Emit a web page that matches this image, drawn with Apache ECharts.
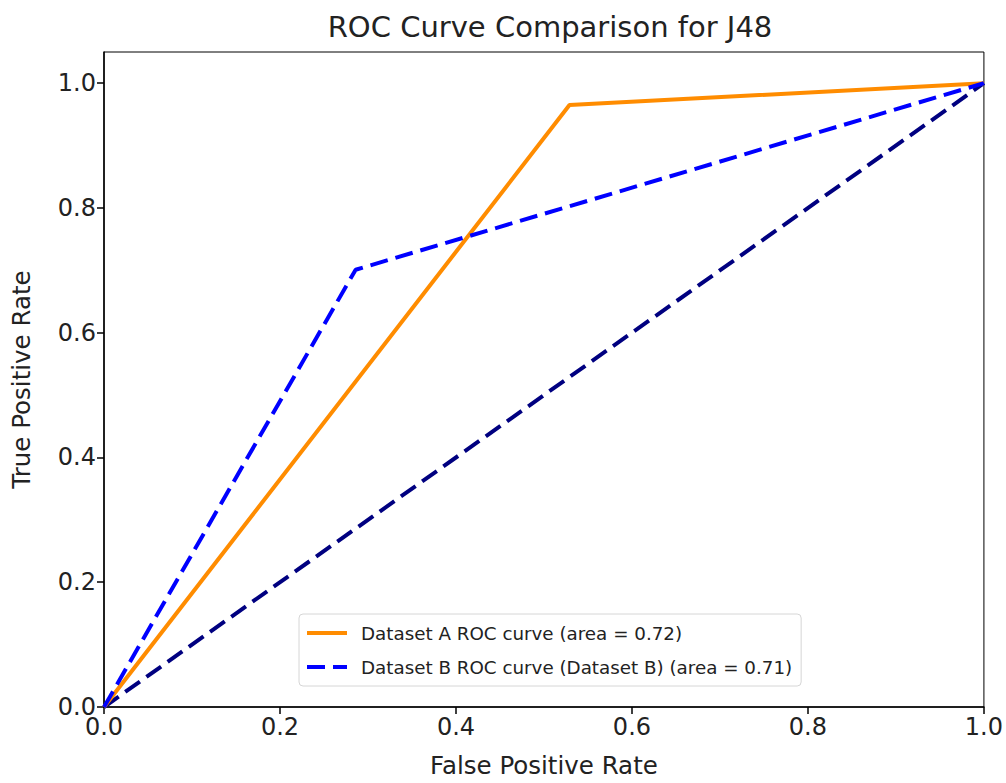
<!DOCTYPE html>
<html>
<head>
<meta charset="utf-8">
<style>
  html, body { margin: 0; padding: 0; background: #fff; }
  #chart { width: 1006px; height: 783px; }
</style>
<script src="https://cdn.jsdelivr.net/npm/echarts@6/dist/echarts.min.js"></script>
</head>
<body>
<div id="chart"></div>
<script>
// ROC curves for J48, two datasets plus the chance diagonal
var nameA = 'Dataset A ROC curve (area = 0.72)';
var nameB = 'Dataset B ROC curve (Dataset B) (area = 0.71)';
var fprA = [0.0, 0.529, 1.0];
var tprA = [0.0, 0.965, 1.0];
var fprB = [0.0, 0.286, 1.0];
var tprB = [0.0, 0.701, 1.0];
var fprChance = [0.0, 1.0];
var tprChance = [0.0, 1.0];
var tickValues = [0, 0.2, 0.4, 0.6, 0.8, 1.0];

function pairs(xs, ys) {
  return xs.map(function(x, i) { return [x, ys[i]]; });
}

var ink = '#222';
var font = 'DejaVu Sans';

var chart = echarts.init(document.getElementById('chart'), null, { renderer: 'svg' });
chart.setOption({
  animation: false,
  textStyle: { fontFamily: font, color: ink },
  title: {
    text: 'ROC Curve Comparison for J48',
    left: 545, top: 7, textAlign: 'center',
    textStyle: { fontFamily: font, fontSize: 29, fontWeight: 'normal', color: ink }
  },
  grid: { left: 104, right: 20, top: 52, bottom: 74, show: true, borderColor: '#000', borderWidth: 1 },
  legend: {
    data: [nameA, nameB],
    orient: 'vertical',
    left: 299, top: 614,
    padding: [10, 9, 10, 6],
    itemGap: 16,
    itemWidth: 40, itemHeight: 22,
    backgroundColor: '#fff',
    borderColor: '#d6d6d6', borderWidth: 1, borderRadius: 4,
    itemStyle: { opacity: 0 },
    lineStyle: { width: 4 },
    textStyle: { fontFamily: font, fontSize: 18.3, color: ink, padding: [0, 0, 0, 9] }
  },
  xAxis: {
    type: 'value', min: 0, max: 1,
    name: 'False Positive Rate', nameLocation: 'middle', nameGap: 46,
    nameTextStyle: { fontFamily: font, fontSize: 24.5, color: ink },
    axisLine: { show: true, onZero: false, lineStyle: { color: '#000', width: 1.5 } },
    axisTick: { show: true, length: 7, customValues: tickValues, lineStyle: { color: '#000', width: 1.5 } },
    axisLabel: { customValues: tickValues, fontFamily: font, fontSize: 24, color: ink, margin: 8,
      formatter: function(v) { return v.toFixed(1); } },
    splitLine: { show: false }
  },
  yAxis: {
    type: 'value', min: 0, max: 1.05,
    name: 'True Positive Rate', nameLocation: 'middle', nameGap: 70, nameRotate: 90,
    nameTextStyle: { fontFamily: font, fontSize: 24.5, color: ink },
    axisLine: { show: true, onZero: false, lineStyle: { color: '#000', width: 1.5 } },
    axisTick: { show: true, length: 7, customValues: tickValues, lineStyle: { color: '#000', width: 1.5 } },
    axisLabel: { customValues: tickValues, fontFamily: font, fontSize: 24, color: ink, margin: 8,
      formatter: function(v) { return v.toFixed(1); } },
    splitLine: { show: false }
  },
  series: [
    {
      name: nameA, type: 'line', data: pairs(fprA, tprA),
      symbol: 'none', z: 3,
      lineStyle: { color: '#ff8c00', width: 4 },
      itemStyle: { color: '#ff8c00' }
    },
    {
      name: nameB, type: 'line', data: pairs(fprB, tprB),
      symbol: 'none', z: 4,
      lineStyle: { color: '#0000ff', width: 4, type: [18, 8] },
      itemStyle: { color: '#0000ff' }
    },
    {
      name: 'chance', type: 'line', data: pairs(fprChance, tprChance),
      symbol: 'none', z: 2,
      lineStyle: { color: '#000080', width: 4, type: [18, 8] },
      itemStyle: { color: '#000080' }
    }
  ]
});
window.addEventListener('resize', function() { chart.resize(); });
</script>
</body>
</html>
